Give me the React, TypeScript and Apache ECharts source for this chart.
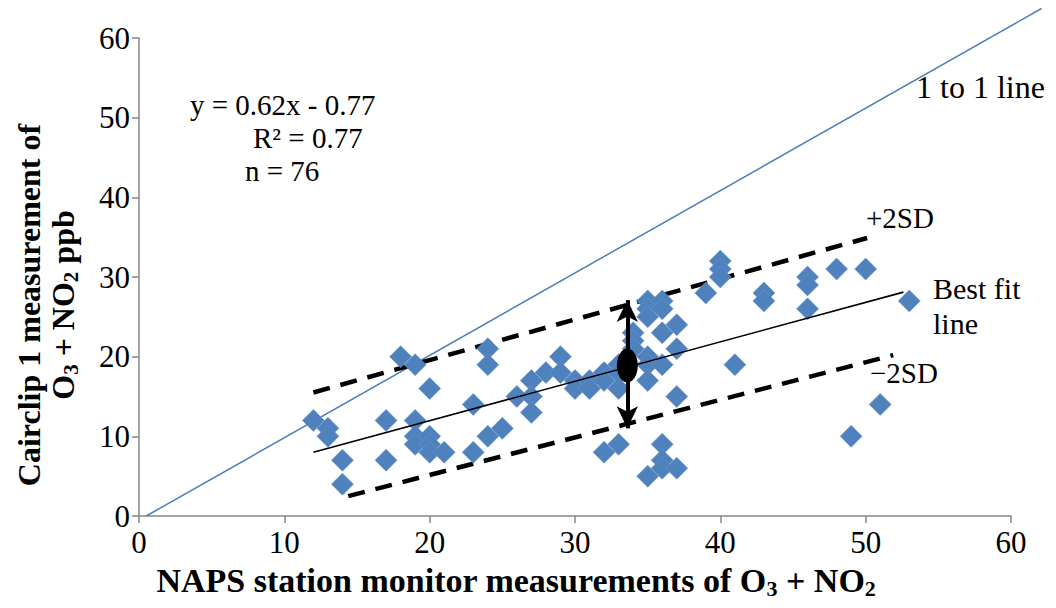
import React, { useEffect, useRef } from "react";
import * as echarts from "echarts";

// Scatter data (NAPS x, Cairclip y)
const naps = [
  12, 13, 13, 14, 14, 17, 17, 18, 19, 19, 19, 19, 20, 20, 20, 20, 21, 23, 23, 24,
  24, 24, 25, 26, 27, 27, 27, 28, 29, 29, 30, 30, 31, 31, 32, 32, 32, 33, 33, 33,
  33, 34, 34, 34, 35, 35, 35, 35, 35, 35, 35, 36, 36, 36, 36, 36, 36, 36, 37, 37,
  37, 37, 39, 40, 40, 40, 41, 43, 43, 46, 46, 46, 48, 50, 51, 49, 53,
];
const cairclip = [
  12, 11, 10, 7, 4, 12, 7, 20, 19, 12, 10, 9, 16, 10, 9, 8, 8, 14, 8, 21,
  19, 10, 11, 15, 17, 15, 13, 18, 20, 18, 17, 16, 17, 16, 18, 17, 8, 19, 18, 16,
  9, 23, 22, 21, 27, 26, 25, 20, 19, 17, 5, 27, 26, 23, 19, 9, 7, 6, 24, 21,
  15, 6, 28, 32, 31, 30, 19, 28, 27, 30, 29, 26, 31, 31, 14, 10, 27,
];

// Reference lines as drawn in the figure
const oneToOneX = [0.5, 62.1];
const oneToOneY = [0, 63.7];
const fitX = [12, 52.6];
const fitY = [8, 28.1];
const plusSdX = [12, 50.1];
const plusSdY = [15.5, 34.9];
const minusSdX = [14.4, 51.9];
const minusSdY = [2.5, 20.2];
const arrowX = 33.6;
const arrowTop = 27.1;
const arrowBottom = 11.0;
const meanPoint = [33.6, 18.9];

const axisTicks = { min: 0, max: 60, interval: 10 };

const pairs = (xs: number[], ys: number[]) => xs.map((x, i) => [x, ys[i]]);

const FONT = "'Liberation Serif', 'Times New Roman', serif";

export default function App() {
  const ref = useRef<HTMLDivElement>(null);
  useEffect(() => {
    if (!ref.current) return;
    const chart = echarts.init(ref.current, null, { renderer: "svg" });
    const axisCommon = {
      type: "value" as const,
      min: axisTicks.min,
      max: axisTicks.max,
      interval: axisTicks.interval,
      splitLine: { show: false },
      axisLine: { show: true, onZero: false, lineStyle: { color: "#868686", width: 1.5 } },
      axisTick: { show: true, inside: false, length: 7, lineStyle: { color: "#868686", width: 1.5 } },
      axisLabel: { color: "#000", fontFamily: FONT, fontSize: 31 },
    };
    const oneToOne = pairs(oneToOneX, oneToOneY);
    chart.setOption({
      animation: false,
      backgroundColor: "#fff",
      grid: { left: 139, right: 45, top: 38, bottom: 92, containLabel: false },
      xAxis: { ...axisCommon, axisLabel: { ...axisCommon.axisLabel, margin: 11 } },
      yAxis: { ...axisCommon, axisLabel: { ...axisCommon.axisLabel, margin: 9 } },
      series: [
        {
          type: "custom",
          clip: false,
          z: 1,
          data: [0],
          renderItem: (_p: any, api: any) => {
            const a = api.coord(oneToOne[0]);
            const b = api.coord(oneToOne[1]);
            return {
              type: "line",
              shape: { x1: a[0], y1: a[1], x2: b[0], y2: b[1] },
              style: { stroke: "#4a7ebb", lineWidth: 1.5 },
            };
          },
        },
        {
          type: "line",
          data: pairs(plusSdX, plusSdY),
          showSymbol: false,
          lineStyle: { color: "#000", width: 4.5, type: [17, 11] },
          z: 2,
        },
        {
          type: "line",
          data: pairs(minusSdX, minusSdY),
          showSymbol: false,
          lineStyle: { color: "#000", width: 4.5, type: [17, 11] },
          z: 2,
        },
        {
          type: "scatter",
          data: pairs(naps, cairclip),
          symbol: "diamond",
          symbolSize: 22,
          itemStyle: { color: "#4f81bd", opacity: 1, borderColor: "#6a96cc", borderWidth: 0.6 },
          z: 3,
        },
        {
          type: "line",
          data: pairs(fitX, fitY),
          showSymbol: false,
          lineStyle: { color: "#000", width: 1.6 },
          z: 4,
        },
        {
          type: "line",
          data: [],
          z: 5,
          markLine: {
            silent: true,
            symbol: ["arrow", "arrow"],
            symbolSize: [16, 22],
            label: { show: false },
            lineStyle: { color: "#000", width: 4, type: "solid" },
            data: [[{ coord: [arrowX, arrowTop] }, { coord: [arrowX, arrowBottom] }]],
          },
        },
        {
          type: "scatter",
          data: [meanPoint],
          symbol: "circle",
          symbolSize: [21, 34],
          itemStyle: { color: "#000", opacity: 1 },
          z: 6,
        },
      ],
      graphic: [
        {
          type: "text",
          x: 46,
          y: 305,
          rotation: Math.PI / 2,
          style: {
            text: "{b|Cairclip 1 measurement of}\n{b|O}{s|3}{b| + NO}{s|2}{b| ppb}",
            align: "center",
            verticalAlign: "middle",
            lineHeight: 34,
            rich: {
              b: { fontFamily: FONT, fontSize: 32, fontWeight: "bold", fill: "#000", lineHeight: 34 },
              s: { fontFamily: FONT, fontSize: 21, fontWeight: "bold", fill: "#000", padding: [15, 0, 0, 0], lineHeight: 34 },
            },
          },
        },
        {
          type: "text",
          x: 516,
          y: 580,
          style: {
            text: "{b|NAPS station monitor measurements of O}{s|3}{b| + NO}{s|2}",
            align: "center",
            verticalAlign: "middle",
            rich: {
              b: { fontFamily: FONT, fontSize: 34, fontWeight: "bold", fill: "#000" },
              s: { fontFamily: FONT, fontSize: 22, fontWeight: "bold", fill: "#000", padding: [16, 0, 0, 0] },
            },
          },
        },
        { type: "text", x: 190, y: 105, style: { text: "y = 0.62x - 0.77", fontFamily: FONT, fontSize: 29, fill: "#000", align: "left", verticalAlign: "middle" } },
        { type: "text", x: 253, y: 138, style: { text: "R² = 0.77", fontFamily: FONT, fontSize: 29, fill: "#000", align: "left", verticalAlign: "middle" } },
        { type: "text", x: 245, y: 171, style: { text: "n = 76", fontFamily: FONT, fontSize: 29, fill: "#000", align: "left", verticalAlign: "middle" } },
        { type: "text", x: 916, y: 87, style: { text: "1 to 1 line", fontFamily: FONT, fontSize: 32, fill: "#000", align: "left", verticalAlign: "middle" } },
        { type: "text", x: 866, y: 218, style: { text: "+2SD", fontFamily: FONT, fontSize: 29, fill: "#000", align: "left", verticalAlign: "middle" } },
        { type: "text", x: 933, y: 288, style: { text: "Best fit", fontFamily: FONT, fontSize: 30, fill: "#000", align: "left", verticalAlign: "middle" } },
        { type: "text", x: 933, y: 323, style: { text: "line", fontFamily: FONT, fontSize: 30, fill: "#000", align: "left", verticalAlign: "middle" } },
        { type: "text", x: 870, y: 373, style: { text: "\u22122SD", fontFamily: FONT, fontSize: 29, fill: "#000", align: "left", verticalAlign: "middle" } },
      ],
    });
    return () => chart.dispose();
  }, []);
  return (
    <div
      ref={ref}
      style={{ position: "fixed", left: 0, top: 0, width: 1056, height: 608, background: "#fff" }}
    />
  );
}
